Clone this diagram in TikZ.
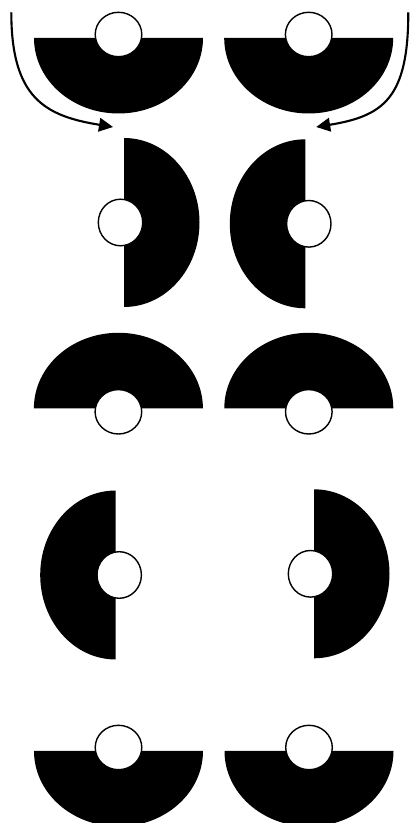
\documentclass[tikz,border=0pt]{standalone}
\usetikzlibrary{arrows.meta}
\begin{document}
\begin{tikzpicture}[x=0.025cm, y=0.025cm]
  % Sizes of one piece (sketch pixels)
  \def\chordr{84.5}
  \def\depth{75.5}
  \def\holea{23.3}
  \def\holeb{22.2}
  \def\holeoff{3.5}
  \tikzset{
    halfdisk/.style={fill=black},
    hole/.style={draw=black, fill=white, line width=1pt},
    turn/.style={line width=1.5pt, -{Triangle[length=3.5mm, width=3.4mm]}}
  }
  \useasboundingbox (0,0) rectangle (411,823);

  % Half disks with their hole: chord centre and turn angle
  \foreach \cx/\cy/\rot in {118.5/785/0, 308.7/785/0,
                            124/600.5/90, 305.3/599.2/-90,
                            118.4/414.7/180, 308.8/414.7/180,
                            115.7/248/-90, 314/249.2/90,
                            118.5/72/0, 309/72/0} {
    \begin{scope}[shift={(\cx,\cy)}, rotate=\rot]
      \fill[halfdisk] (-\chordr,0)
        arc[start angle=180, end angle=360, x radius=\chordr, y radius=\depth]
        -- cycle;
      \draw[hole] (0,\holeoff) ellipse[x radius=\holea, y radius=\holeb];
    \end{scope}
  }

  % Turning arrows
  \coordinate (startL) at (11.3,810.7);
  \coordinate (tipL) at (113,696);
  \coordinate (startR) at (408.3,810.7);
  \coordinate (tipR) at (316.2,696);
  \draw[turn] (startL) .. controls (11.3,725) and (45,707) .. (tipL);
  \draw[turn] (startR) .. controls (408.3,725) and (383.7,707) .. (tipR);

\end{tikzpicture}
\end{document}
